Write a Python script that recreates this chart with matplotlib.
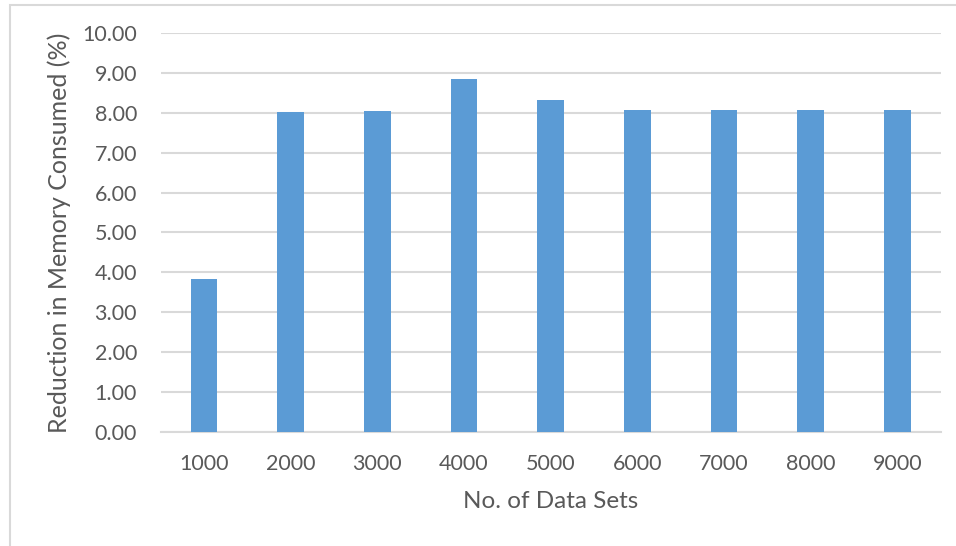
import matplotlib.pyplot as plt
from matplotlib.patches import Rectangle

plt.rcParams['font.family'] = ['Lato', 'DejaVu Sans']

data_sets = ['1000', '2000', '3000', '4000', '5000', '6000', '7000', '8000', '9000']
reduction = [3.83, 8.02, 8.04, 8.86, 8.32, 8.07, 8.07, 8.07, 8.07]
y_ticks = [0, 1, 2, 3, 4, 5, 6, 7, 8, 9, 10]

W, H = 956, 546
fig = plt.figure(figsize=(W / 100, H / 100), dpi=100)
ax = fig.add_axes([160.7 / W, 1 - 431.7 / H, 780 / W, 398.4 / H])

text_c = '#595959'
grid_c = '#d9d9d9'

x = range(len(data_sets))
ax.bar(x, reduction, width=0.31, color='#5b9bd5', zorder=3)

ax.set_xlim(-0.5, len(data_sets) - 0.5)
ax.set_ylim(0, 10)
ax.set_yticks(y_ticks)
ax.set_yticklabels([f'{v:.2f}' for v in y_ticks])
ax.set_xticks(list(x))
ax.set_xticklabels(data_sets)

ax.yaxis.grid(True, color=grid_c, linewidth=1.5, zorder=0)
ax.set_axisbelow(True)
for side in ['top', 'right', 'left']:
    ax.spines[side].set_visible(False)
ax.spines['bottom'].set_color(grid_c)
ax.spines['bottom'].set_linewidth(1.5)
ax.tick_params(axis='both', length=0, labelsize=15.5, colors=text_c)
ax.tick_params(axis='y', pad=17)
ax.tick_params(axis='x', pad=16)

ax.set_xlabel('No. of Data Sets', fontsize=17.5, color=text_c, labelpad=12)
ax.set_ylabel('Reduction in Memory Consumed (%)', fontsize=18, color=text_c, labelpad=8)

# chart area frame (runs off the right and bottom edges)
fig.patches.append(Rectangle((9.5 / W, -0.1), 1.2, 1 - 5 / H + 0.1,
                             transform=fig.transFigure, fill=False,
                             edgecolor=grid_c, linewidth=1.5))

fig.savefig('out.png', dpi=100)
